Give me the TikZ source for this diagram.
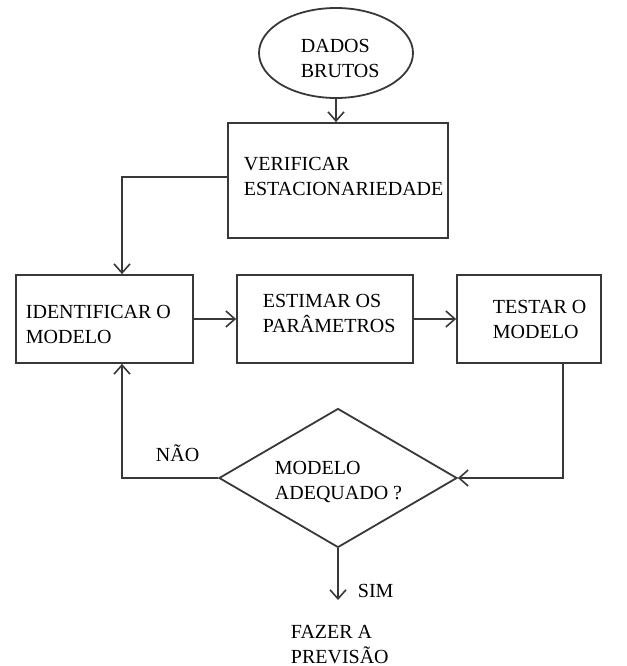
\documentclass[tikz,border=0pt]{standalone}
\usepackage{fontspec}
\setmainfont{Liberation Serif}
\usetikzlibrary{arrows.meta,shapes.geometric}
\tikzset{
  passo/.style={draw, rectangle, inner sep=0pt},
  rotulo/.style={anchor=base west, align=left, inner sep=0pt, text=black, font=\fontsize{20}{25}\selectfont},
  seta/.style={-{Straight Barb[length=9pt,width=16pt,line width=1.6pt]}},
}
\begin{document}
\begin{tikzpicture}[x=1pt, y=-1pt, line width=1.8pt, draw=black!78, color=black!78]
\useasboundingbox (0,0) rectangle (626,666);
% caixas
\node [draw, ellipse, inner sep=0pt, minimum width=154pt, minimum height=90pt] (dados) at (336,53) {};
\node [passo, minimum width=220pt, minimum height=115pt] (verif) at (338,180.5) {};
\node [passo, minimum width=177pt, minimum height=88pt] (ident) at (104.5,319) {};
\node [passo, minimum width=176pt, minimum height=88pt] (estim) at (325,319) {};
\node [passo, minimum width=144pt, minimum height=88pt] (testar) at (529,319) {};
\node [draw, diamond, inner sep=0pt, minimum width=238pt, minimum height=139pt] (adeq) at (338,478) {};
\coordinate (fim) at (338,600);
% textos (base = ultima linha)
\node [rotulo] (tdados) at (300,78) {DADOS\\BRUTOS};
\node [rotulo] (tverif) at (243,195) {VERIFICAR\\ESTACIONARIEDADE};
\node [rotulo] (tident) at (25,343) {IDENTIFICAR O\\MODELO};
\node [rotulo] (testim) at (262,332) {ESTIMAR OS\\PARÂMETROS};
\node [rotulo] (ttestar) at (492,338) {TESTAR O\\MODELO};
\node [rotulo] (tadeq) at (274,499) {MODELO\\ADEQUADO ?};
\node [rotulo] (nao) at (155,461) {NÃO};
\node [rotulo] (sim) at (357,597) {SIM};
\node [rotulo] (tfazer) at (290,663) {FAZER A\\PREVISÃO};
% ligacoes
\draw [seta] (dados.south) -- (dados.south |- verif.north);
\draw [seta] (verif.west |- 0,177) -| (122,0 |- ident.north);
\draw [seta] (ident.east) -- (estim.west);
\draw [seta] (estim.east) -- (testar.west);
\draw [seta] (testar.south -| 563,0) |- (adeq.east);
\draw [seta] (adeq.west) -| (122,0 |- ident.south);
\draw [seta] (adeq.south) -- (fim);
\end{tikzpicture}
\end{document}
